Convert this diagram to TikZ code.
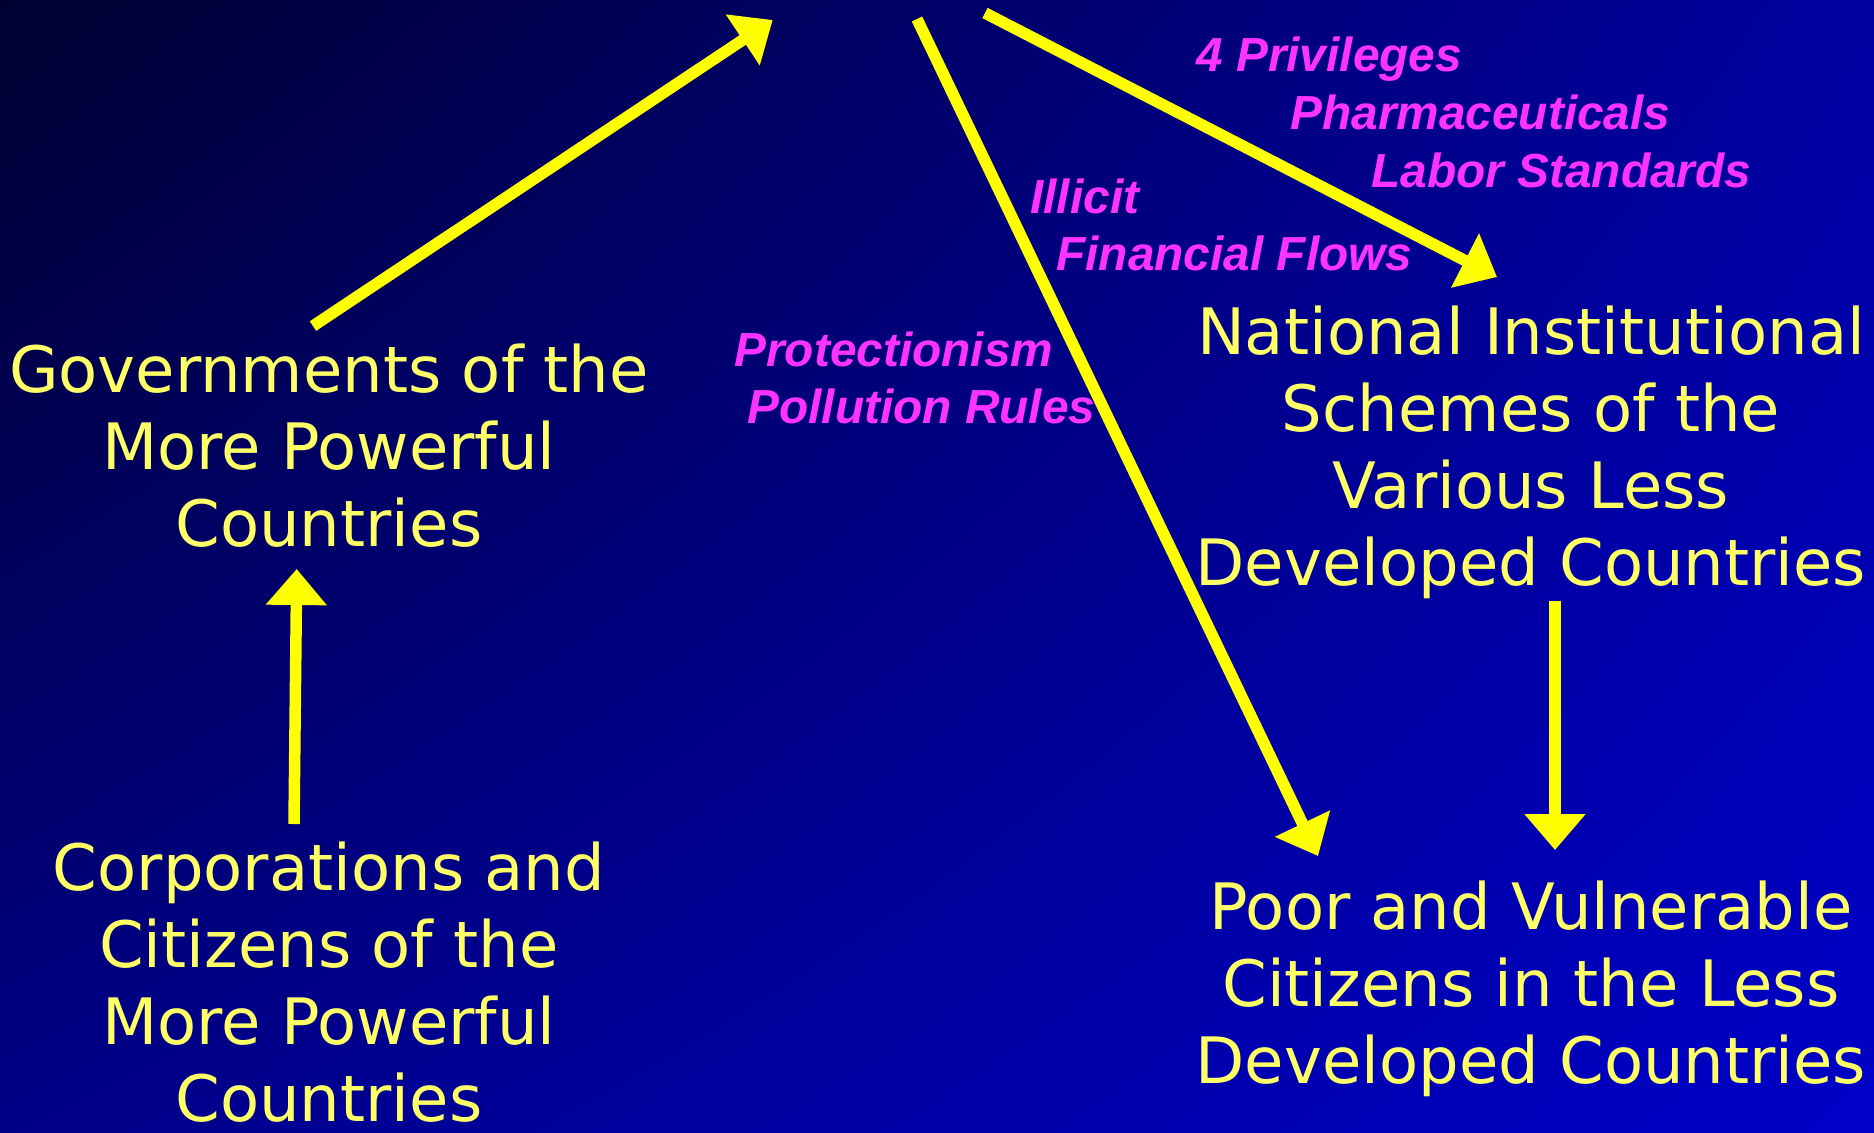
\documentclass[tikz,border=0pt]{standalone}
\usepackage{fontspec}
\setmainfont{DejaVu Sans}
\newfontfamily\labelfont{Liberation Sans}
\usetikzlibrary{arrows.meta,shadings}
\definecolor{bgTL}{HTML}{000030}
\definecolor{bgTR}{HTML}{0000A0}
\definecolor{bgBL}{HTML}{000087}
\definecolor{bgBR}{HTML}{0000C8}
\definecolor{txtyellow}{HTML}{FFFF66}
\definecolor{arryellow}{HTML}{FFFF00}
\definecolor{mag}{HTML}{FF33FF}
\begin{document}
\begin{tikzpicture}[x=0.5pt,y=-0.5pt,
  big/.style={font=\fontsize{32pt}{38.5pt}\selectfont, text=txtyellow, align=center, inner sep=0pt, anchor=base},
  lab/.style={font=\labelfont\bfseries\itshape\fontsize{23.9pt}{28pt}\selectfont, text=mag, inner sep=0pt, anchor=base west},
  arr/.style={draw=arryellow, line width=5.75pt, -{Triangle[length=18pt,width=29.5pt]}}]
\shade[upper left=bgTL, upper right=bgTR, lower left=bgBL, lower right=bgBR] (0,0) rectangle (1874,1132);
\useasboundingbox (0,0) rectangle (1874,1132);

% text blocks (anchor = baseline of the last line)
\node[big] (gov) at (329,546.7) {Governments of the\\More Powerful\\Countries};
\node[big] (corp) at (329,1121.7) {Corporations and\\Citizens of the\\More Powerful\\Countries};
\node[big] (nat) at (1531,585) {National Institutional\\Schemes of the\\Various Less\\Developed Countries};
\node[big] (poor) at (1531,1083.3) {Poor and Vulnerable\\Citizens in the Less\\Developed Countries};

% magenta labels
\node[lab] (l1) at (1196,71.7) {4 Privileges};
\node[lab] (l2) at (1290,129.3) {Pharmaceuticals};
\node[lab] (l3) at (1371,187.3) {Labor Standards};
\node[lab] (l4) at (1030,213.3) {Illicit};
\node[lab] (l5) at (1056,270.7) {Financial Flows};
\node[lab] (l6) at (734,366.7) {Protectionism};
\node[lab] (l7) at (747,423.3) {Pollution Rules};

% connector end points
\coordinate (govOut) at (313,326);
\coordinate (topA) at (772.7,20);
\coordinate (topB) at (917,19);
\coordinate (poorIn) at (1318,856);
\coordinate (topC) at (985,13);
\coordinate (natIn) at (1497,277);
\coordinate (corpOut) at (294,824);
\coordinate (govIn) at (296.7,569);
\coordinate (natOut) at (1555,600.7);
\coordinate (poorIn2) at (1555,850);

\draw[arr] (govOut) -- (topA);
\draw[arr] (topB) -- (poorIn);
\draw[arr] (topC) -- (natIn);
\draw[arr] (corpOut) -- (govIn);
\draw[arr] (natOut) -- (poorIn2);
\end{tikzpicture}
\end{document}
